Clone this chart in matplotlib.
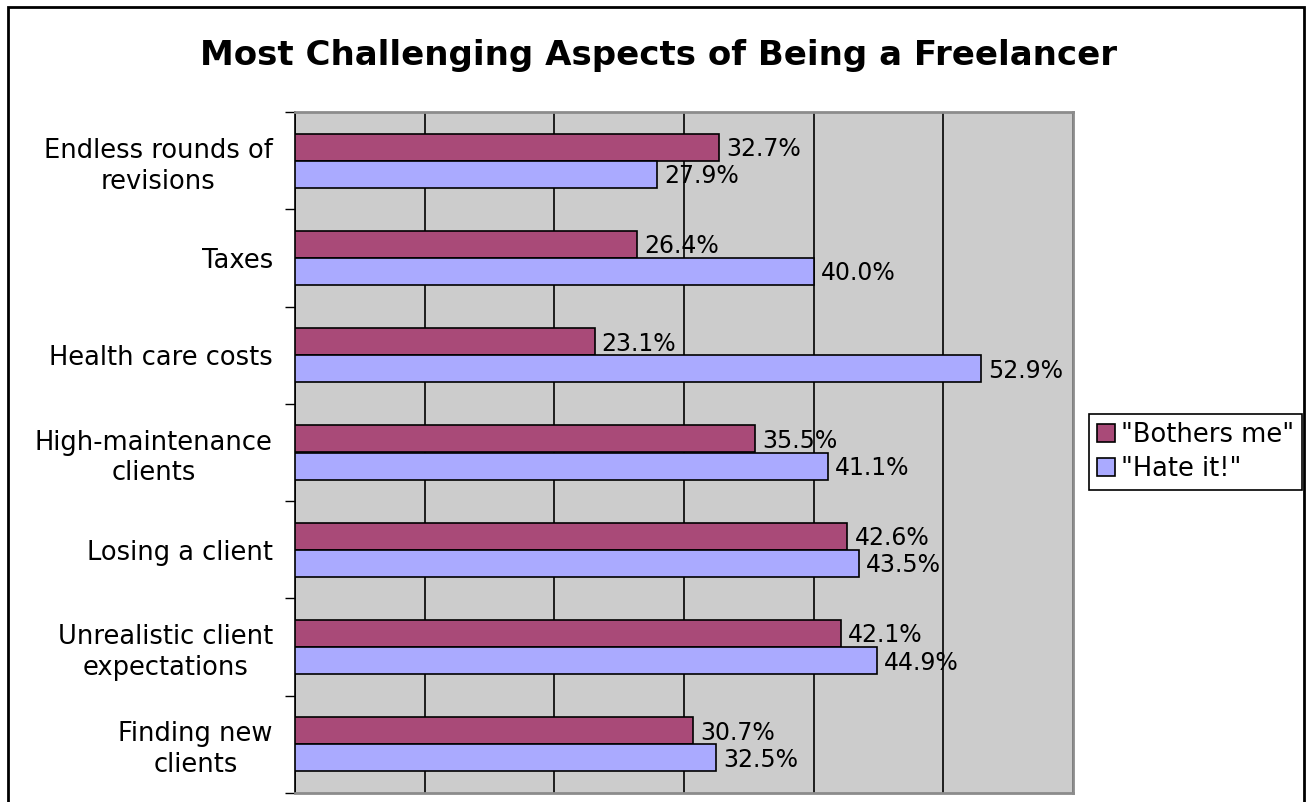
import matplotlib
matplotlib.use("Agg")
import matplotlib.pyplot as plt
import matplotlib.patches as mpatches
import numpy as np

categories = ["Endless rounds of\nrevisions", "Taxes", "Health care costs",
              "High-maintenance\nclients", "Losing a client",
              "Unrealistic client\nexpectations", "Finding new\nclients"]
bothers_me = [32.7, 26.4, 23.1, 35.5, 42.6, 42.1, 30.7]
hate_it = [27.9, 40.0, 52.9, 41.1, 43.5, 44.9, 32.5]
series_names = ['"Bothers me"', '"Hate it!"']
colors = ["#a94a78", "#aaaaff"]

W, H = 1312, 802
fig = plt.figure(figsize=(W / 100, H / 100), dpi=100)
plt.rcParams["font.family"] = "DejaVu Sans"

# outer chart frame (bottom edge runs off the image)
fig.add_artist(mpatches.Rectangle((8 / W, -0.05), (1304 - 8) / W, 1.05 - 7 / H,
                                  transform=fig.transFigure, fill=False,
                                  edgecolor="black", linewidth=2))

ax = fig.add_axes([295 / W, 1 - 793 / H, (1073 - 295) / W, (793 - 112) / H])
ax.set_facecolor("#cccccc")

n = len(categories)
centers = np.arange(n) + 0.5
h = 0.278
ax.barh(centers - h / 2, bothers_me, height=h, color=colors[0],
        edgecolor="black", linewidth=1.2, zorder=3)
ax.barh(centers + h / 2, hate_it, height=h, color=colors[1],
        edgecolor="black", linewidth=1.2, zorder=3)

for y, v in zip(centers - h / 2, bothers_me):
    ax.text(v + 0.55, y + 0.02, f"{v:.1f}%", va="center", ha="left",
            fontsize=17, zorder=4)
for y, v in zip(centers + h / 2, hate_it):
    ax.text(v + 0.55, y + 0.02, f"{v:.1f}%", va="center", ha="left",
            fontsize=17, zorder=4)

ax.set_xlim(0, 60)
ax.set_ylim(n, 0)
ax.set_xticks(np.arange(0, 61, 10))
ax.set_xticklabels([])
ax.tick_params(axis="x", length=0)
ax.grid(axis="x", color="black", linewidth=1.2, zorder=1)

ax.set_yticks(np.arange(n + 1))
ax.set_yticklabels([])
ax.tick_params(axis="y", which="major", length=7, width=1, direction="out")
ax.set_yticks(centers, minor=True)
ax.set_yticklabels(categories, minor=True, fontsize=18.5, ha="right",
                   multialignment="center", linespacing=1.25)
ax.tick_params(axis="y", which="minor", length=0, pad=16)

for side in ["top", "right", "bottom"]:
    ax.spines[side].set_color("#8c8c8c")
    ax.spines[side].set_linewidth(2)
ax.spines["left"].set_color("black")
ax.spines["left"].set_linewidth(1.2)

fig.text(0.5 * (8 + 1304) / W + 0.002, 1 - 55 / H,
         "Most Challenging Aspects of Being a Freelancer",
         ha="center", va="center", fontsize=24.5, fontweight="bold")

handles = [mpatches.Patch(facecolor=c, edgecolor="black", linewidth=1.2)
           for c in colors]
leg = fig.legend(handles, series_names, loc="center left",
                 bbox_to_anchor=(1089 / W, 1 - 452 / H), fontsize=18.5,
                 frameon=True, fancybox=False, framealpha=1,
                 edgecolor="black", handlelength=0.7, handleheight=0.7,
                 handletextpad=0.25, borderpad=0.3, labelspacing=0.3,
                 borderaxespad=0)
leg.get_frame().set_linewidth(1.2)

fig.savefig("out.png", dpi=100)
